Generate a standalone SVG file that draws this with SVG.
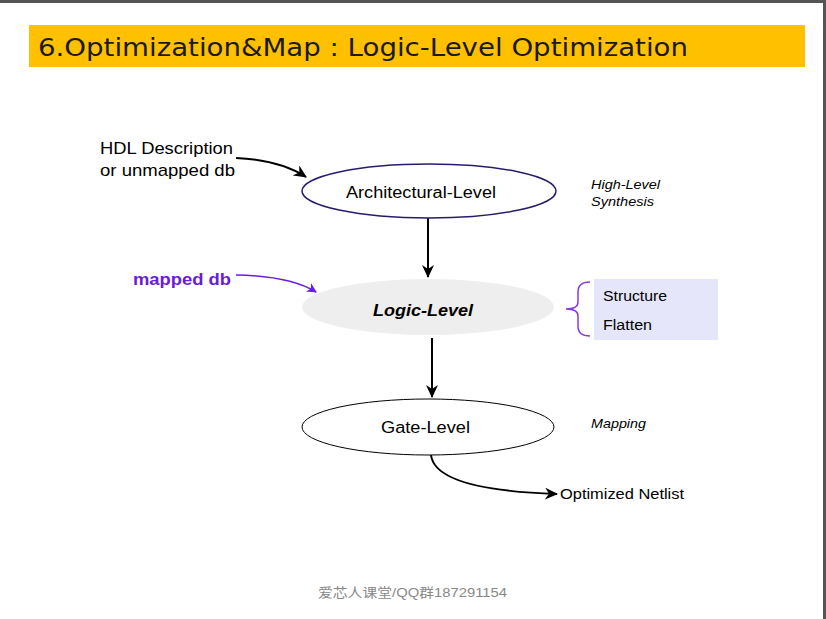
<svg xmlns="http://www.w3.org/2000/svg" width="826" height="619" viewBox="0 0 826 619">
<style>
.t{font-family:"Liberation Sans",Arial,sans-serif;fill:#000}
.it{font-family:"Liberation Sans",Arial,sans-serif;font-style:italic;font-size:13px;fill:#000}
.ln{fill:none;stroke:#000;stroke-width:2}
</style>
<defs>
<marker id="ah" markerWidth="13" markerHeight="12" refX="12" refY="6" orient="auto" markerUnits="userSpaceOnUse">
<path d="M0,0 L13,6 L0,12 L4,6 Z" fill="#000"/>
</marker>
<marker id="ahp" markerWidth="10" markerHeight="10" refX="9" refY="5" orient="auto" markerUnits="userSpaceOnUse">
<path d="M0,0 L10,5 L0,10 L3,5 Z" fill="#6a1be0"/>
</marker>
</defs>
<rect width="826" height="619" fill="#fff"/>
<rect x="0" y="0" width="826" height="3" fill="#555"/>
<rect x="823" y="0" width="3" height="619" fill="#555"/>
<g id="title">
<rect x="29" y="25" width="776" height="42" fill="#ffc000"/>
<text x="38" y="56" font-family="'DejaVu Sans',Verdana,sans-serif" font-size="24" textLength="650" lengthAdjust="spacingAndGlyphs" fill="#1a1a1a">6.Optimization&amp;Map : Logic-Level Optimization</text>
</g>
<g id="connectors">
<path class="ln" d="M236,158 Q280,160 306,177" marker-end="url(#ah)"/>
<path d="M236,275 Q290,276 316,292" fill="none" stroke="#6a1be0" stroke-width="1.5" marker-end="url(#ahp)"/>
<path class="ln" d="M428,218 L428,277" marker-end="url(#ah)"/>
<path class="ln" d="M432,338 L432,397" marker-end="url(#ah)"/>
<path class="ln" d="M431,455 Q435,490 557,494" marker-end="url(#ah)"/>
</g>
<g id="hdl">
<text class="t" x="100" y="154" font-size="17" textLength="133" lengthAdjust="spacingAndGlyphs">HDL Description</text>
<text class="t" x="100" y="176" font-size="17" textLength="135" lengthAdjust="spacingAndGlyphs">or unmapped db</text>
</g>
<g id="mapped">
<text x="133" y="285" font-family="'Liberation Sans',Arial,sans-serif" font-weight="bold" font-size="16" textLength="98" lengthAdjust="spacingAndGlyphs" fill="#6a1be0">mapped db</text>
</g>
<g id="arch">
<ellipse cx="429" cy="191" rx="127" ry="27" fill="#fff" stroke="#2a1a6e" stroke-width="1.5"/>
<text class="t" x="346" y="198" font-size="16" textLength="150" lengthAdjust="spacingAndGlyphs">Architectural-Level</text>
</g>
<g id="logic">
<ellipse cx="428" cy="307" rx="126" ry="28" fill="#eeeeee"/>
<text class="t" x="373" y="316" font-size="16" font-weight="bold" font-style="italic" textLength="100" lengthAdjust="spacingAndGlyphs">Logic-Level</text>
</g>
<g id="gate">
<ellipse cx="428" cy="427" rx="126" ry="28" fill="#fff" stroke="#000" stroke-width="1"/>
<text class="t" x="381" y="433" font-size="16" textLength="89" lengthAdjust="spacingAndGlyphs">Gate-Level</text>
</g>
<g id="netlist">
<text class="t" x="560" y="499" font-size="14" textLength="124" lengthAdjust="spacingAndGlyphs">Optimized Netlist</text>
</g>
<g id="hls">
<text class="it" x="591" y="189" textLength="69" lengthAdjust="spacingAndGlyphs">High-Level</text>
<text class="it" x="591" y="206" textLength="63" lengthAdjust="spacingAndGlyphs">Synthesis</text>
</g>
<g id="opts">
<path d="M590,282 Q578,282 578,292 L578,302 Q578,309 566,309 Q578,309 578,316 L578,326 Q578,336 590,336" fill="none" stroke="#8a3be0" stroke-width="1.5"/>
<rect x="594" y="279" width="124" height="61" fill="#e6e6fa"/>
<text class="t" x="603" y="301" font-size="14" textLength="64" lengthAdjust="spacingAndGlyphs">Structure</text>
<text class="t" x="603" y="330" font-size="14" textLength="49" lengthAdjust="spacingAndGlyphs">Flatten</text>
</g>
<g id="mapping">
<text class="it" x="591" y="428" textLength="55" lengthAdjust="spacingAndGlyphs">Mapping</text>
</g>
<g id="footer">
<text x="318" y="597" font-family="'Liberation Sans','Noto Sans CJK SC',sans-serif" font-size="13" textLength="189" lengthAdjust="spacingAndGlyphs" fill="#888">爱芯人课堂/QQ群187291154</text>
</g>
</svg>
